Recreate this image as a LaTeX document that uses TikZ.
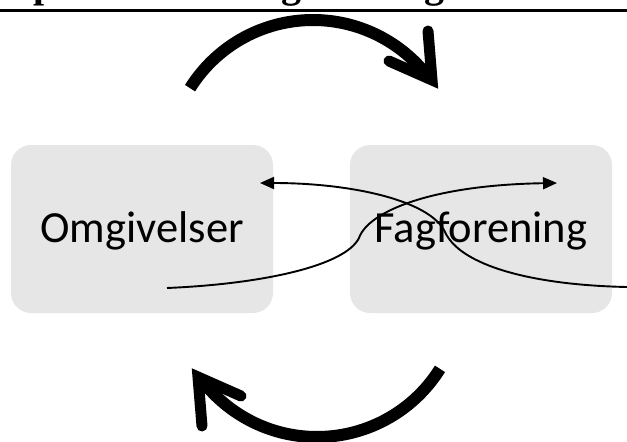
\documentclass[tikz,border=0pt]{standalone}
\usepackage{fontspec}
\newfontfamily\boxfont{Carlito}
\newfontfamily\titlefont{Liberation Serif}
\usetikzlibrary{arrows.meta,calc}
\definecolor{boxgray}{RGB}{231,230,230}
\begin{document}
\begin{tikzpicture}[x=1pt,y=-1pt,
  box/.style={draw=none, fill=boxgray, rounded corners=20pt, minimum width=262pt, minimum height=168pt, inner sep=0pt, font=\boxfont\fontsize{44.5}{50}\selectfont, text height=26pt, text depth=0pt},
  thinarrow/.style={line width=1.9pt, -{Triangle[length=14pt,width=12pt]}},
  thickarc/.style={line width=12pt},
  chevron/.style={line width=11pt, line cap=round, line join=miter},
  ttl/.style={font=\titlefont\bfseries\fontsize{40}{44}\selectfont, inner sep=0pt, anchor=base west}]
\useasboundingbox (0,0) rectangle (627,442);
% cut-off title (only descenders visible)
\node[ttl] (t1) at (33,-3) {p};
\node[ttl] (t2) at (281,-3) {g};
\node[ttl] (t3) at (424,-3) {g};
\coordinate (rl) at (0,10.5);
\coordinate (rr) at (627,10.5);
\draw[line width=3pt] (rl) -- (rr);
% boxes
\node[box] (om) at (142,229) {Omgivelser};
\node[box] (fag) at (481,229) {Fagforening};
% thin crossing arrows
\coordinate (a0) at (167,288);
\coordinate (a1) at (359,238);
\coordinate (a2) at (557,183);
\draw[thinarrow] (a0) .. controls (262,284) and (345,266) .. (a1) .. controls (368,212) and (430,185) .. (a2);
\coordinate (b0) at (627,287);
\coordinate (b1) at (445,232);
\coordinate (b2) at (260,183);
\draw[thinarrow] (b0) .. controls (530,285) and (460,265) .. (b1) .. controls (430,200) and (350,183) .. (b2);
% thick curved arrows
\draw[thickarc] (313,165) ++(-148:145) arc[start angle=-148, end angle=-38, radius=145];
\coordinate (tt) at (432,80);
\coordinate (ta1) at (428,31);
\coordinate (ta2) at (389,61);
\draw[chevron] (ta1) -- (tt) -- (ta2);
\begin{scope}[rotate around={180:(315,228.5)}]
\draw[thickarc] (313,165) ++(-148:145) arc[start angle=-148, end angle=-38, radius=145];
\coordinate (bt) at (432,80);
\coordinate (ba1) at (428,31);
\coordinate (ba2) at (389,61);
\draw[chevron] (ba1) -- (bt) -- (ba2);
\end{scope}
\end{tikzpicture}
\end{document}
